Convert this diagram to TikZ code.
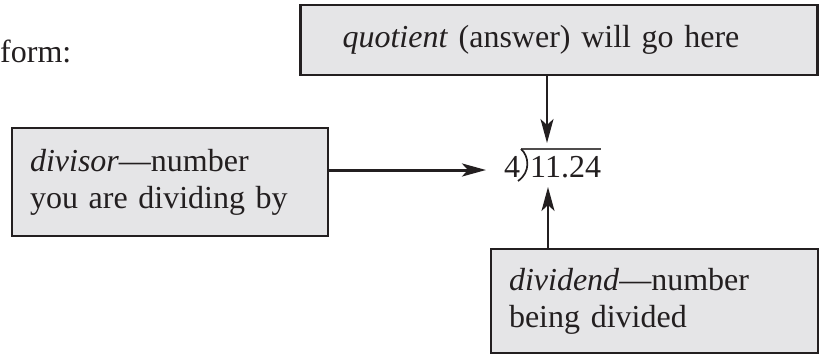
\documentclass[tikz,border=0pt]{standalone}
\usepackage{fontspec}
\setmainfont{Liberation Serif}
\usetikzlibrary{arrows.meta}
\definecolor{boxfill}{RGB}{229,229,231}
\definecolor{ink}{RGB}{35,31,32}
\begin{document}
\begin{tikzpicture}[x=1pt,y=-1pt,
  txt/.style={font=\fontsize{32}{37}\selectfont, text=ink},
  box/.style={txt, draw=ink, line width=2.6pt, fill=boxfill, rectangle,
    align=left, inner ysep=0pt},
  arr/.style={draw=ink, line width=2pt,
    -{Stealth[length=24pt,width=13pt,inset=6pt]}}]
\useasboundingbox (0,0) rectangle (819,354);

% lead-in word
\node[txt, anchor=base west, inner sep=0pt] (lead) at (0,62) {form:};

% label boxes
\node[box, minimum width=517pt, minimum height=70pt, inner xsep=42pt,
  text width=433pt] (quot) at (559,40) {\textit{quotient} (answer) will go here};
\node[box, minimum width=316pt, minimum height=108pt, inner xsep=18pt,
  text width=280pt] (dvs) at (170,182) {\textit{divisor}---number\\you are dividing by};
\node[box, minimum width=327pt, minimum height=104pt, inner xsep=18pt,
  text width=291pt] (dvd) at (654.5,301) {\textit{dividend}---number\\being divided};

% long-division layout 4)11.24
\node[txt, anchor=base west, inner sep=0pt] (four) at (504,177) {4};
\node[txt, anchor=base west, inner sep=0pt] (num) at (530,177) {11.24};
\coordinate (bar) at (521,149);
\draw[ink!80, line width=1.2pt] (bar) -- (num.east |- bar);
\draw[ink, line width=1.7pt] (bar) .. controls (529,156) and (531,172) .. (518,181);

% arrow targets
\coordinate (qt) at (547,143);
\coordinate (lt) at (486,170);
\coordinate (dt) at (548,187);

\draw[arr] (quot.south -| qt) -- (qt);
\draw[arr, line width=3pt] (dvs.east |- lt) -- (lt);
\draw[arr] (dvd.north -| dt) -- (dt);
\end{tikzpicture}
\end{document}
